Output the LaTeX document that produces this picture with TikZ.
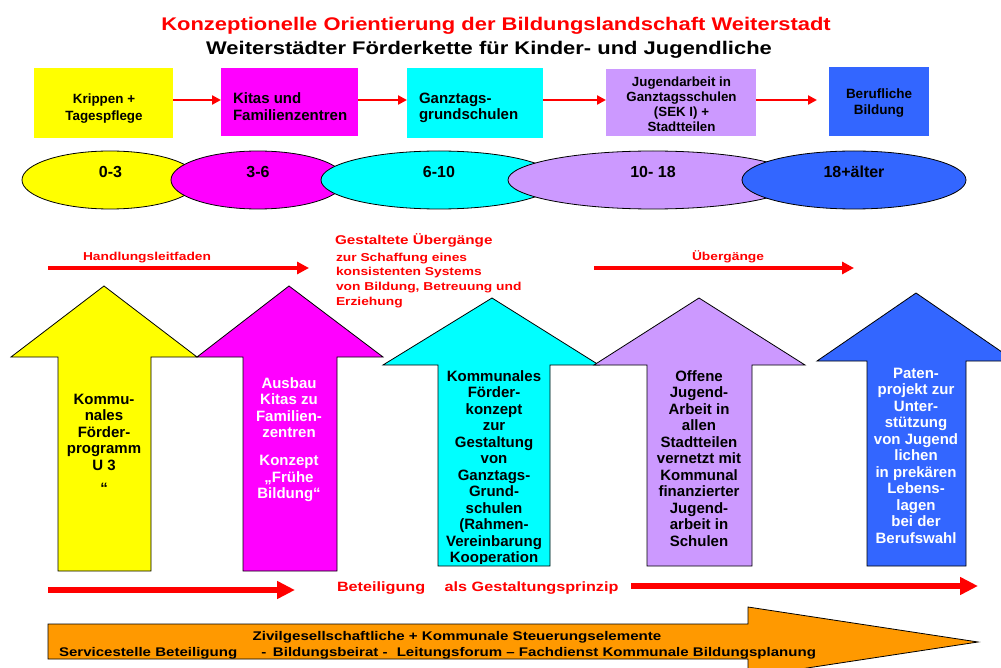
\documentclass[tikz,border=0pt]{standalone}
\usepackage{fontspec}
\setmainfont{Liberation Sans}
\newfontfamily\widefont[FakeStretch=1.2]{Liberation Sans}
\usetikzlibrary{shapes.geometric,arrows.meta}
\definecolor{cyel}{HTML}{FFFF00}
\definecolor{cmag}{HTML}{FF00FF}
\definecolor{ccya}{HTML}{00FFFF}
\definecolor{clav}{HTML}{CC99FF}
\definecolor{cblu}{HTML}{3366FF}
\definecolor{cora}{HTML}{FF9900}
\definecolor{cred}{HTML}{FF0000}
\newcommand{\fsz}[2]{\fontsize{#1}{#2}\selectfont}
\begin{document}
\begin{tikzpicture}[x=1pt,y=-1pt,
  boxst/.style={anchor=north west,inner sep=0pt,outer sep=0pt},
  txt/.style={inner sep=0pt,outer sep=0pt},
  agest/.style={ellipse,draw=black,line width=0.8pt,inner sep=0pt,minimum height=58pt},
  bigarrow/.style={draw=black,line width=0.8pt},
  conn/.style={draw=cred,line width=2.5pt,-{Triangle[length=9pt,width=9pt]}},
  midarrow/.style={draw=cred,line width=4pt,-{Triangle[length=12pt,width=12pt]}},
  botarrow/.style={draw=cred,line width=6pt,-{Triangle[length=18pt,width=17pt]}},
  arrtext/.style={txt,anchor=north,align=center,font=\bfseries\fsz{15}{16.5}},
  redtext/.style={txt,text=cred},
]
\useasboundingbox (0,0) rectangle (1001,668);
\clip (0,0) rectangle (1001,668);
\fill[white] (0,0) rectangle (1001,668);

% titles
\node[txt,text=cred,anchor=base,font=\widefont\bfseries\fsz{18.3}{20}] (title) at (496,31) {Konzeptionelle Orientierung der Bildungslandschaft Weiterstadt};
\node[txt,anchor=base,font=\widefont\bfseries\fsz{18.3}{20}] (subtitle) at (489,55) {Weiterstädter Förderkette für Kinder- und Jugendliche};

% top boxes
\node[boxst,fill=cyel,minimum width=139pt,minimum height=70pt] (b1) at (34,68) {};
\node[boxst,fill=cmag,minimum width=137pt,minimum height=68pt] (b2) at (221,68) {};
\node[boxst,fill=ccya,minimum width=136pt,minimum height=70pt] (b3) at (407,68) {};
\node[boxst,fill=clav,minimum width=150pt,minimum height=67pt] (b4) at (606,69) {};
\node[boxst,fill=cblu,minimum width=100pt,minimum height=69pt] (b5) at (829,67) {};

\node[txt,anchor=north,align=center,font=\bfseries\fsz{13.4}{17}] (bt1) at (104,91.9) {\strut Krippen +\\Tagespflege};
\node[txt,anchor=north west,align=left,font=\bfseries\fsz{15}{17}] (bt2) at (233,91.5) {\strut Kitas und\\Familienzentren};
\node[txt,anchor=north west,align=left,font=\bfseries\fsz{15}{16.5}] (bt3) at (419,91.85) {\strut Ganztags-\\grundschulen};
\node[txt,anchor=north,align=center,font=\bfseries\fsz{13.3}{15}] (bt4) at (681.5,76.3) {\strut Jugendarbeit in\\Ganztagsschulen\\(SEK I) +\\Stadtteilen};
\node[txt,anchor=north,align=center,font=\bfseries\fsz{13.5}{16}] (bt5) at (879,87.7) {\strut Berufliche\\Bildung};

\coordinate (ya) at (0,100);
\draw[conn] (b1.east |- ya) -- (b2.west |- ya);
\draw[conn] (b2.east |- ya) -- (b3.west |- ya);
\draw[conn] (b3.east |- ya) -- (b4.west |- ya);
\draw[conn,shorten >=12pt] (b4.east |- ya) -- (b5.west |- ya);

% age ellipses
\node[agest,fill=cyel,minimum width=176pt] (e1) at (110,180) {};
\node[agest,fill=cmag,minimum width=174pt] (e2) at (258,180) {};
\node[agest,fill=ccya,minimum width=236pt] (e3) at (439,180) {};
\node[agest,fill=clav,minimum width=290pt] (e4) at (653,180) {};
\node[agest,fill=cblu,minimum width=224pt] (e5) at (854,180) {};
\node[txt,anchor=base,font=\bfseries\fsz{16}{18}] (l1) at (110.5,178) {0-3};
\node[txt,anchor=base,font=\bfseries\fsz{16}{18}] (l2) at (258,178) {3-6};
\node[txt,anchor=base,font=\bfseries\fsz{16}{18}] (l3) at (439,178) {6-10};
\node[txt,anchor=base,font=\bfseries\fsz{16}{18}] (l4) at (653,178) {10- 18};
\node[txt,anchor=base,font=\bfseries\fsz{16}{18}] (l5) at (854,178) {18+älter};

% red transition arrows
\coordinate (h1) at (48,268);
\coordinate (h2) at (309,268);
\draw[midarrow] (h1) -- (h2);
\node[redtext,anchor=base west,font=\widefont\bfseries\fsz{11.5}{13}] (hl) at (83,261) {Handlungsleitfaden};
\coordinate (u1) at (594,268);
\coordinate (u2) at (854,268);
\draw[midarrow] (u1) -- (u2);
\node[redtext,anchor=base west,font=\widefont\bfseries\fsz{11.5}{13}] (ub) at (692,261) {Übergänge};
\node[redtext,anchor=base west,font=\widefont\bfseries\fsz{12.7}{14}] (gu) at (335,244.5) {Gestaltete Übergänge};
\node[redtext,anchor=north west,align=left,font=\widefont\bfseries\fsz{11.5}{14.7}] (gu2) at (336,250.8) {\strut zur Schaffung eines\\konsistenten Systems\\von Bildung, Betreuung und\\Erziehung};

% big up arrows
\path[bigarrow,fill=cyel] (104,286) -- (197,357) -- (151,357) -- (151,571) -- (58,571) -- (58,357) -- (11,357) -- cycle;
\path[bigarrow,fill=cmag] (289,286) -- (383,357) -- (337,357) -- (337,571) -- (243,571) -- (243,357) -- (197,357) -- cycle;
\path[bigarrow,fill=ccya] (492,298) -- (599,365) -- (550,365) -- (550,566) -- (438,566) -- (438,365) -- (383,365) -- cycle;
\path[bigarrow,fill=clav] (699,298) -- (805,365) -- (752,365) -- (752,566) -- (647,566) -- (647,365) -- (594,365) -- cycle;
\path[bigarrow,fill=cblu] (916,293) -- (1015,361) -- (966,361) -- (966,566) -- (867,566) -- (867,361) -- (817,361) -- cycle;

\node[arrtext] (at1) at (104,392.85) {\strut Kommu-\\nales\\Förder-\\programm\\U 3\\[7pt]“};
\node[arrtext,text=white] (at2) at (289,376.85) {\strut Ausbau\\Kitas zu\\Familien-\\zentren\\[11.5pt]Konzept\\„Frühe\\Bildung“};
\begin{scope}
\clip (438,365) rectangle (550,563);
\node[arrtext] (at3) at (494,369.85) {\strut Kommunales\\Förder-\\konzept\\zur\\Gestaltung\\von\\Ganztags-\\Grund-\\schulen\\(Rahmen-\\Vereinbarung\\Kooperation};
\end{scope}
\node[arrtext] (at4) at (699,369.85) {\strut Offene\\Jugend-\\Arbeit in\\allen\\Stadtteilen\\vernetzt mit\\Kommunal\\finanzierter\\Jugend-\\arbeit in\\Schulen};
\node[arrtext,text=white] (at5) at (916,366.85) {\strut Paten-\\projekt zur\\Unter-\\stützung\\von Jugend\\lichen\\in prekären\\Lebens-\\lagen\\bei der\\Berufswahl};

% participation arrows
\coordinate (p1) at (48,590);
\coordinate (p2) at (295,590);
\draw[botarrow] (p1) -- (p2);
\node[redtext,anchor=base west,font=\widefont\bfseries\fsz{13.5}{15}] (bet) at (337,591) {Beteiligung\hspace{15pt} als Gestaltungsprinzip};
\coordinate (p3) at (631,586);
\coordinate (p4) at (978,586);
\draw[botarrow] (p3) -- (p4);

% orange steering arrow
\path[draw=black,line width=0.8pt,fill=cora] (48,624) -- (748,624) -- (748,607) -- (978,642) -- (748,677) -- (748,659) -- (48,659) -- cycle;
\node[txt,anchor=base,font=\widefont\bfseries\fsz{12.6}{14}] (o1) at (457,640) {Zivilgesellschaftliche + Kommunale Steuerungselemente};
\begin{scope}
\clip (48,600) rectangle (1001,658.3);
\node[txt,anchor=base west,font=\widefont\bfseries\fsz{12.55}{14}] (o2) at (59,656) {Servicestelle Beteiligung\hspace{20pt} - \hspace{2.3pt}Bildungsbeirat -\hspace{5pt} Leitungsforum – Fachdienst Kommunale Bildungsplanung};
\end{scope}
\end{tikzpicture}
\end{document}
